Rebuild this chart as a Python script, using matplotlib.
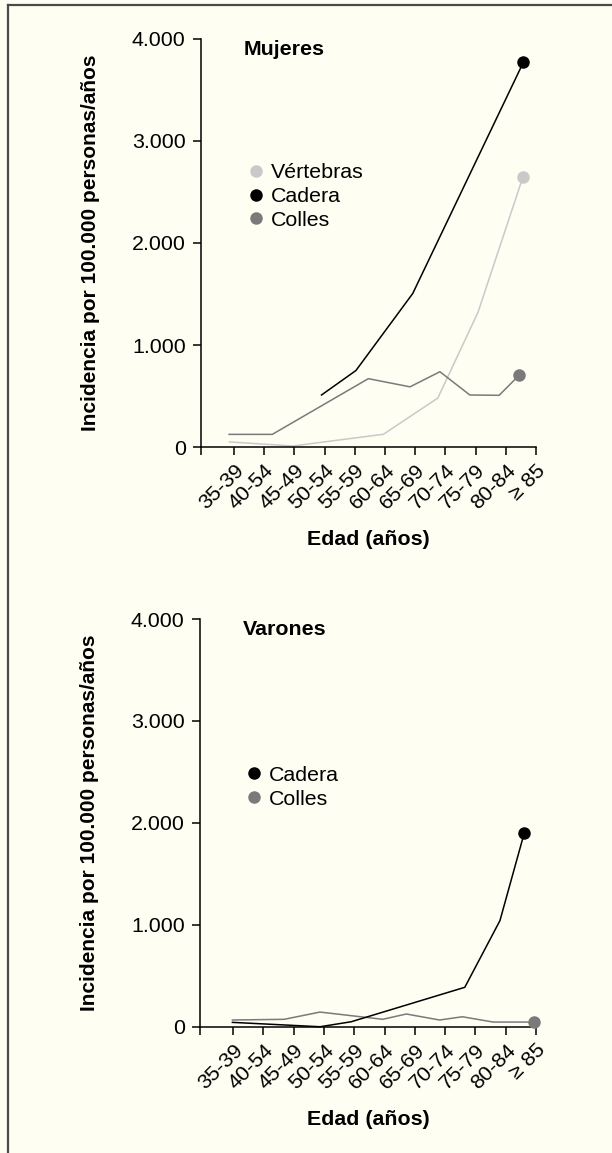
import matplotlib
matplotlib.use("Agg")
import matplotlib.pyplot as plt
from matplotlib.lines import Line2D

plt.rcParams["font.family"] = ["Liberation Sans", "DejaVu Sans"]

_BG = "#fefef3"
_FS = 15.4

# ── Data ────────────────────────────────────────────────────────────────
age_labels = ["35-39", "40-54", "45-49", "50-54", "55-59", "60-64",
              "65-69", "70-74", "75-79", "80-84", "≥ 85"]

# positions in units of age-group ticks
w_vert_x = [-0.15, 1.95, 4.95, 6.75, 8.08, 9.57]
w_vert_y = [50, 10, 125, 480, 1320, 2650]
w_cad_x = [2.9, 4.04, 5.92, 9.58]
w_cad_y = [510, 750, 1505, 3770]
w_col_x = [-0.16, 1.27, 4.45, 5.83, 6.82, 7.81, 8.78, 9.44]
w_col_y = [124, 124, 670, 590, 738, 510, 507, 703]

m_cad_x = [-0.02, 2.87, 3.9, 7.65, 8.81, 9.61]
m_cad_y = [43, 0, 49, 387, 1041, 1898]
m_col_x = [-0.02, 1.69, 2.87, 4.94, 5.72, 6.82, 7.57, 8.59, 9.93]
m_col_y = [66, 73, 144, 73, 125, 66, 98, 46, 46]

C_VERT = "#c9c9c9"
C_CAD = "#000000"
C_COL = "#7a7a7a"

XMIN, XMAX = -1.09, 10.0


def thousands(v):
    return f"{int(v):,}".replace(",", ".")


def style_axes(ax, title):
    ax.set_facecolor(_BG)
    ax.set_xlim(XMIN, XMAX)
    ax.set_ylim(0, 4000)
    for s in ("top", "right"):
        ax.spines[s].set_visible(False)
    for s in ("left", "bottom"):
        ax.spines[s].set_linewidth(1.1)
    yt = [0, 1000, 2000, 3000, 4000]
    ax.set_yticks(yt)
    ax.set_yticklabels([thousands(v) for v in yt], fontsize=_FS)
    # extra tick at the origin so the y axis runs below the x axis
    ax.set_xticks([XMIN] + list(range(len(age_labels))))
    ax.set_xticklabels([""] + age_labels, fontsize=_FS, rotation=45,
                       ha="right", va="top", rotation_mode="anchor")
    ax.tick_params(direction="out", length=6, width=1.1, pad=4)
    ax.tick_params(axis="y", pad=5)
    ax.set_ylabel("Incidencia por 100.000 personas/años", fontsize=15,
                  fontweight="bold")
    ax.yaxis.set_label_coords(-0.30, 0.5)
    ax.set_xlabel("Edad (años)", fontsize=_FS, fontweight="bold")
    ax.xaxis.set_label_coords(0.5, -0.203)
    ax.text(0.128, 0.975, title, transform=ax.transAxes, fontsize=_FS,
            fontweight="bold", ha="left", va="center")


def series(ax, x, y, color, lw=1.1):
    ax.plot(x, y, color=color, lw=lw, clip_on=False, zorder=2)
    ax.plot(x[-1:], y[-1:], "o", color=color, ms=9, mec="none",
            clip_on=False, zorder=3)


def legend(ax, items, anchor):
    handles = [Line2D([], [], ls="none", marker="o", ms=9, color=c, mec="none")
               for _, c in items]
    ax.legend(handles, [n for n, _ in items], loc="upper left",
              bbox_to_anchor=anchor, frameon=False, fontsize=_FS,
              handlelength=0.6, handletextpad=0.4, labelspacing=0.22,
              borderpad=0, borderaxespad=0)


fig = plt.figure(figsize=(6.12, 11.53), dpi=100, facecolor=_BG)

# ── Mujeres ─────────────────────────────────────────────────────────────
ax1 = fig.add_axes([0.3284, 0.6123, 0.5474, 0.3539])
style_axes(ax1, "Mujeres")
series(ax1, w_vert_x, w_vert_y, C_VERT)
series(ax1, w_col_x, w_col_y, C_COL)
series(ax1, w_cad_x, w_cad_y, C_CAD)
legend(ax1, [("Vértebras", C_VERT), ("Cadera", C_CAD), ("Colles", C_COL)],
       (0.145, 0.695))

# ── Varones ─────────────────────────────────────────────────────────────
ax2 = fig.add_axes([0.3268, 0.1095, 0.5490, 0.3536])
style_axes(ax2, "Varones")
series(ax2, m_col_x, m_col_y, C_COL)
series(ax2, m_cad_x, m_cad_y, C_CAD)
legend(ax2, [("Cadera", C_CAD), ("Colles", C_COL)], (0.142, 0.64))

# page frame (left and top edges only)
fig.add_artist(Line2D([0.0125, 0.0125], [0.0, 0.9957], color="#4a4a4a",
                      lw=1.6, transform=fig.transFigure))
fig.add_artist(Line2D([0.0125, 1.0], [0.9957, 0.9957], color="#4a4a4a",
                      lw=1.6, transform=fig.transFigure))

fig.savefig("out.png", dpi=100, facecolor=_BG)
